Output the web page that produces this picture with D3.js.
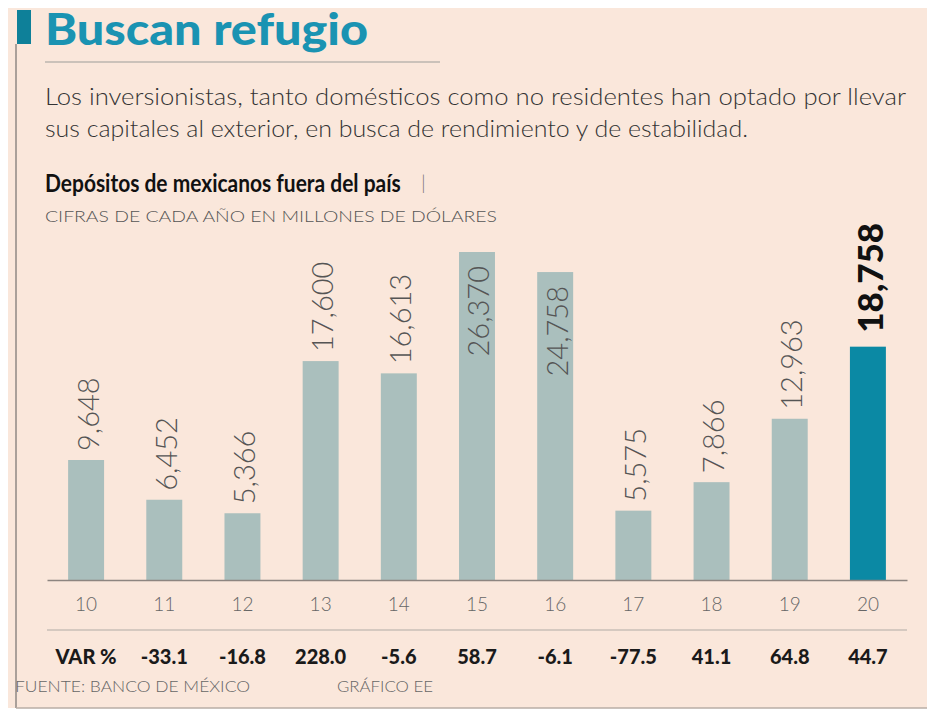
<!DOCTYPE html>
<html>
<head>
<meta charset="utf-8">
<script src="https://cdn.jsdelivr.net/npm/d3@7"></script>
<style>
  body { margin: 0; background: #ffffff; }
  svg { display: block; }
</style>
</head>
<body>
<div id="chart"></div>
<script>
const years = ["10", "11", "12", "13", "14", "15", "16", "17", "18", "19", "20"];
const deposits = [9648, 6452, 5366, 17600, 16613, 26370, 24758, 5575, 7866, 12963, 18758];
const varLabel = "VAR %";
const varPct = ["-33.1", "-16.8", "228.0", "-5.6", "58.7", "-6.1", "-77.5", "41.1", "64.8", "44.7"];
const highlightYear = "20";

const title = "Buscan refugio";
const intro = [
  "Los inversionistas, tanto domésticos como no residentes han optado por llevar",
  "sus capitales al exterior, en busca de rendimiento y de estabilidad."
];
const chartTitle = "Depósitos de mexicanos fuera del país";
const chartSub = "CIFRAS DE CADA AÑO EN MILLONES DE DÓLARES";
const source = "FUENTE: BANCO DE MÉXICO";
const credit = "GRÁFICO EE";

let config = {
  width: 929,
  height: 713,
  bg: "#fae7db",
  teal: "#1a93b2",
  darkTeal: "#0e8099",
  barColor: "#aabfbd",
  barHigh: "#0b89a4",
  font: "Lato, 'Open Sans', sans-serif",
  baseY: 580,
  topY: 252
};

const svg = d3.select("#chart").append("svg")
  .attr("width", config.width)
  .attr("height", config.height);

// squeeze a text horizontally so it fills the given width
function fitWidth(sel, x0, y0, w) {
  const len = sel.node().getComputedTextLength();
  sel.attr("x", 0).attr("y", 0)
    .attr("transform", `translate(${x0},${y0}) scale(${w / len},1)`);
}

// paper
svg.append("rect")
  .attr("x", 8).attr("y", 8)
  .attr("width", 919).attr("height", 700)
  .attr("fill", config.bg);

// frame lines
svg.append("line")
  .attr("x1", 16).attr("x2", 16).attr("y1", 44).attr("y2", 708)
  .attr("stroke", "#8f8984").attr("stroke-width", 1.5);
svg.append("line")
  .attr("x1", 16).attr("x2", 927).attr("y1", 708).attr("y2", 708)
  .attr("stroke", "#b9aea6").attr("stroke-width", 1.5);

// title block
svg.append("rect")
  .attr("x", 17).attr("y", 10).attr("width", 14).attr("height", 34)
  .attr("fill", config.darkTeal);
svg.append("text")
  .attr("x", 45).attr("y", 45)
  .attr("font-family", config.font)
  .attr("font-weight", 900)
  .attr("font-size", 44)
  .attr("fill", config.teal)
  .attr("textLength", 323)
  .attr("lengthAdjust", "spacingAndGlyphs")
  .text(title);
svg.append("line")
  .attr("x1", 45).attr("x2", 440).attr("y1", 62).attr("y2", 62)
  .attr("stroke", "#cbc2ba").attr("stroke-width", 2);

const introWidths = [861, 703];
svg.selectAll(".intro")
  .data(intro)
  .enter()
  .append("text")
  .attr("class", "intro")
  .attr("x", 45)
  .attr("y", (d, i) => 105 + i * 32)
  .attr("font-family", config.font)
  .attr("font-weight", 300)
  .attr("font-size", 23)
  .attr("fill", "#333333")
  .attr("textLength", (d, i) => introWidths[i])
  .attr("lengthAdjust", "spacingAndGlyphs")
  .text(d => d);

const ct = svg.append("text")
  .attr("font-family", config.font)
  .attr("font-weight", 700)
  .attr("font-size", 24)
  .attr("fill", "#111111")
  .text(chartTitle);
fitWidth(ct, 45, 192, 356);
svg.append("text")
  .attr("x", 421).attr("y", 190)
  .attr("font-family", config.font)
  .attr("font-weight", 300)
  .attr("font-size", 20)
  .attr("fill", "#777777")
  .text("|");

svg.append("text")
  .attr("x", 45).attr("y", 222)
  .attr("font-family", config.font)
  .attr("font-weight", 300)
  .attr("font-size", 16)
  .attr("fill", "#555555")
  .attr("textLength", 452)
  .attr("lengthAdjust", "spacingAndGlyphs")
  .text(chartSub);

// scales
const x = d3.scaleBand()
  .domain(years)
  .range([47, 907])
  .paddingInner(0.54)
  .paddingOuter(0.27);

const y = d3.scaleLinear()
  .domain([0, d3.max(deposits)])
  .range([config.baseY, config.topY]);

const data = years.map((yr, i) => ({ year: yr, value: deposits[i] }));

// bars
svg.selectAll(".bar")
  .data(data)
  .enter()
  .append("rect")
  .attr("class", "bar")
  .attr("x", d => x(d.year))
  .attr("y", d => y(d.value))
  .attr("width", x.bandwidth())
  .attr("height", d => config.baseY - y(d.value))
  .attr("fill", d => d.year === highlightYear ? config.barHigh : config.barColor);

// value labels, rotated
const fmt = d3.format(",");
svg.selectAll(".val")
  .data(data)
  .enter()
  .append("text")
  .attr("class", "val")
  .attr("transform", d => {
    const cx = x(d.year) + x.bandwidth() / 2 + 2;
    const inside = d.value > 20000;
    const yy = inside ? y(d.value) + 14 : y(d.value) - (d.year === highlightYear ? 14 : 9);
    return `translate(${cx},${yy}) rotate(-90)`;
  })
  .attr("text-anchor", d => d.value > 20000 ? "end" : "start")
  .attr("dy", "0.36em")
  .attr("font-family", config.font)
  .attr("font-weight", d => d.year === highlightYear ? 900 : 300)
  .attr("font-size", d => d.year === highlightYear ? 35 : 29)
  .attr("fill", d => d.year === highlightYear ? "#111111" : "#555555")
  .text(d => fmt(d.value));

// x axis
const xAxis = svg.append("g")
  .attr("transform", `translate(0,${config.baseY})`)
  .call(d3.axisBottom(x).tickSize(0).tickSizeOuter(0).tickPadding(18));
xAxis.select(".domain").attr("stroke", "#8d8580").attr("stroke-width", 1.5);
xAxis.selectAll("text")
  .attr("font-family", config.font)
  .attr("font-weight", 300)
  .attr("font-size", 19)
  .attr("fill", "#666666");

svg.append("line")
  .attr("x1", 47).attr("x2", 907).attr("y1", 630).attr("y2", 630)
  .attr("stroke", "#c9bfb7").attr("stroke-width", 1.5);

// variation row
const varRow = [varLabel].concat(varPct);
svg.selectAll(".var")
  .data(varRow)
  .enter()
  .append("text")
  .attr("class", "var")
  .attr("x", (d, i) => x(years[i]) + x.bandwidth() / 2)
  .attr("y", 664)
  .attr("text-anchor", "middle")
  .attr("font-family", config.font)
  .attr("font-weight", 900)
  .attr("font-size", 20)
  .attr("fill", "#1a1a1a")
  .text(d => d);

// footer
svg.append("text")
  .attr("x", 15).attr("y", 692)
  .attr("font-family", config.font)
  .attr("font-weight", 300)
  .attr("font-size", 15)
  .attr("fill", "#666666")
  .attr("textLength", 235)
  .attr("lengthAdjust", "spacingAndGlyphs")
  .text(source);
svg.append("text")
  .attr("x", 337).attr("y", 692)
  .attr("font-family", config.font)
  .attr("font-weight", 300)
  .attr("font-size", 15)
  .attr("fill", "#666666")
  .attr("textLength", 96)
  .attr("lengthAdjust", "spacingAndGlyphs")
  .text(credit);
</script>
</body>
</html>
